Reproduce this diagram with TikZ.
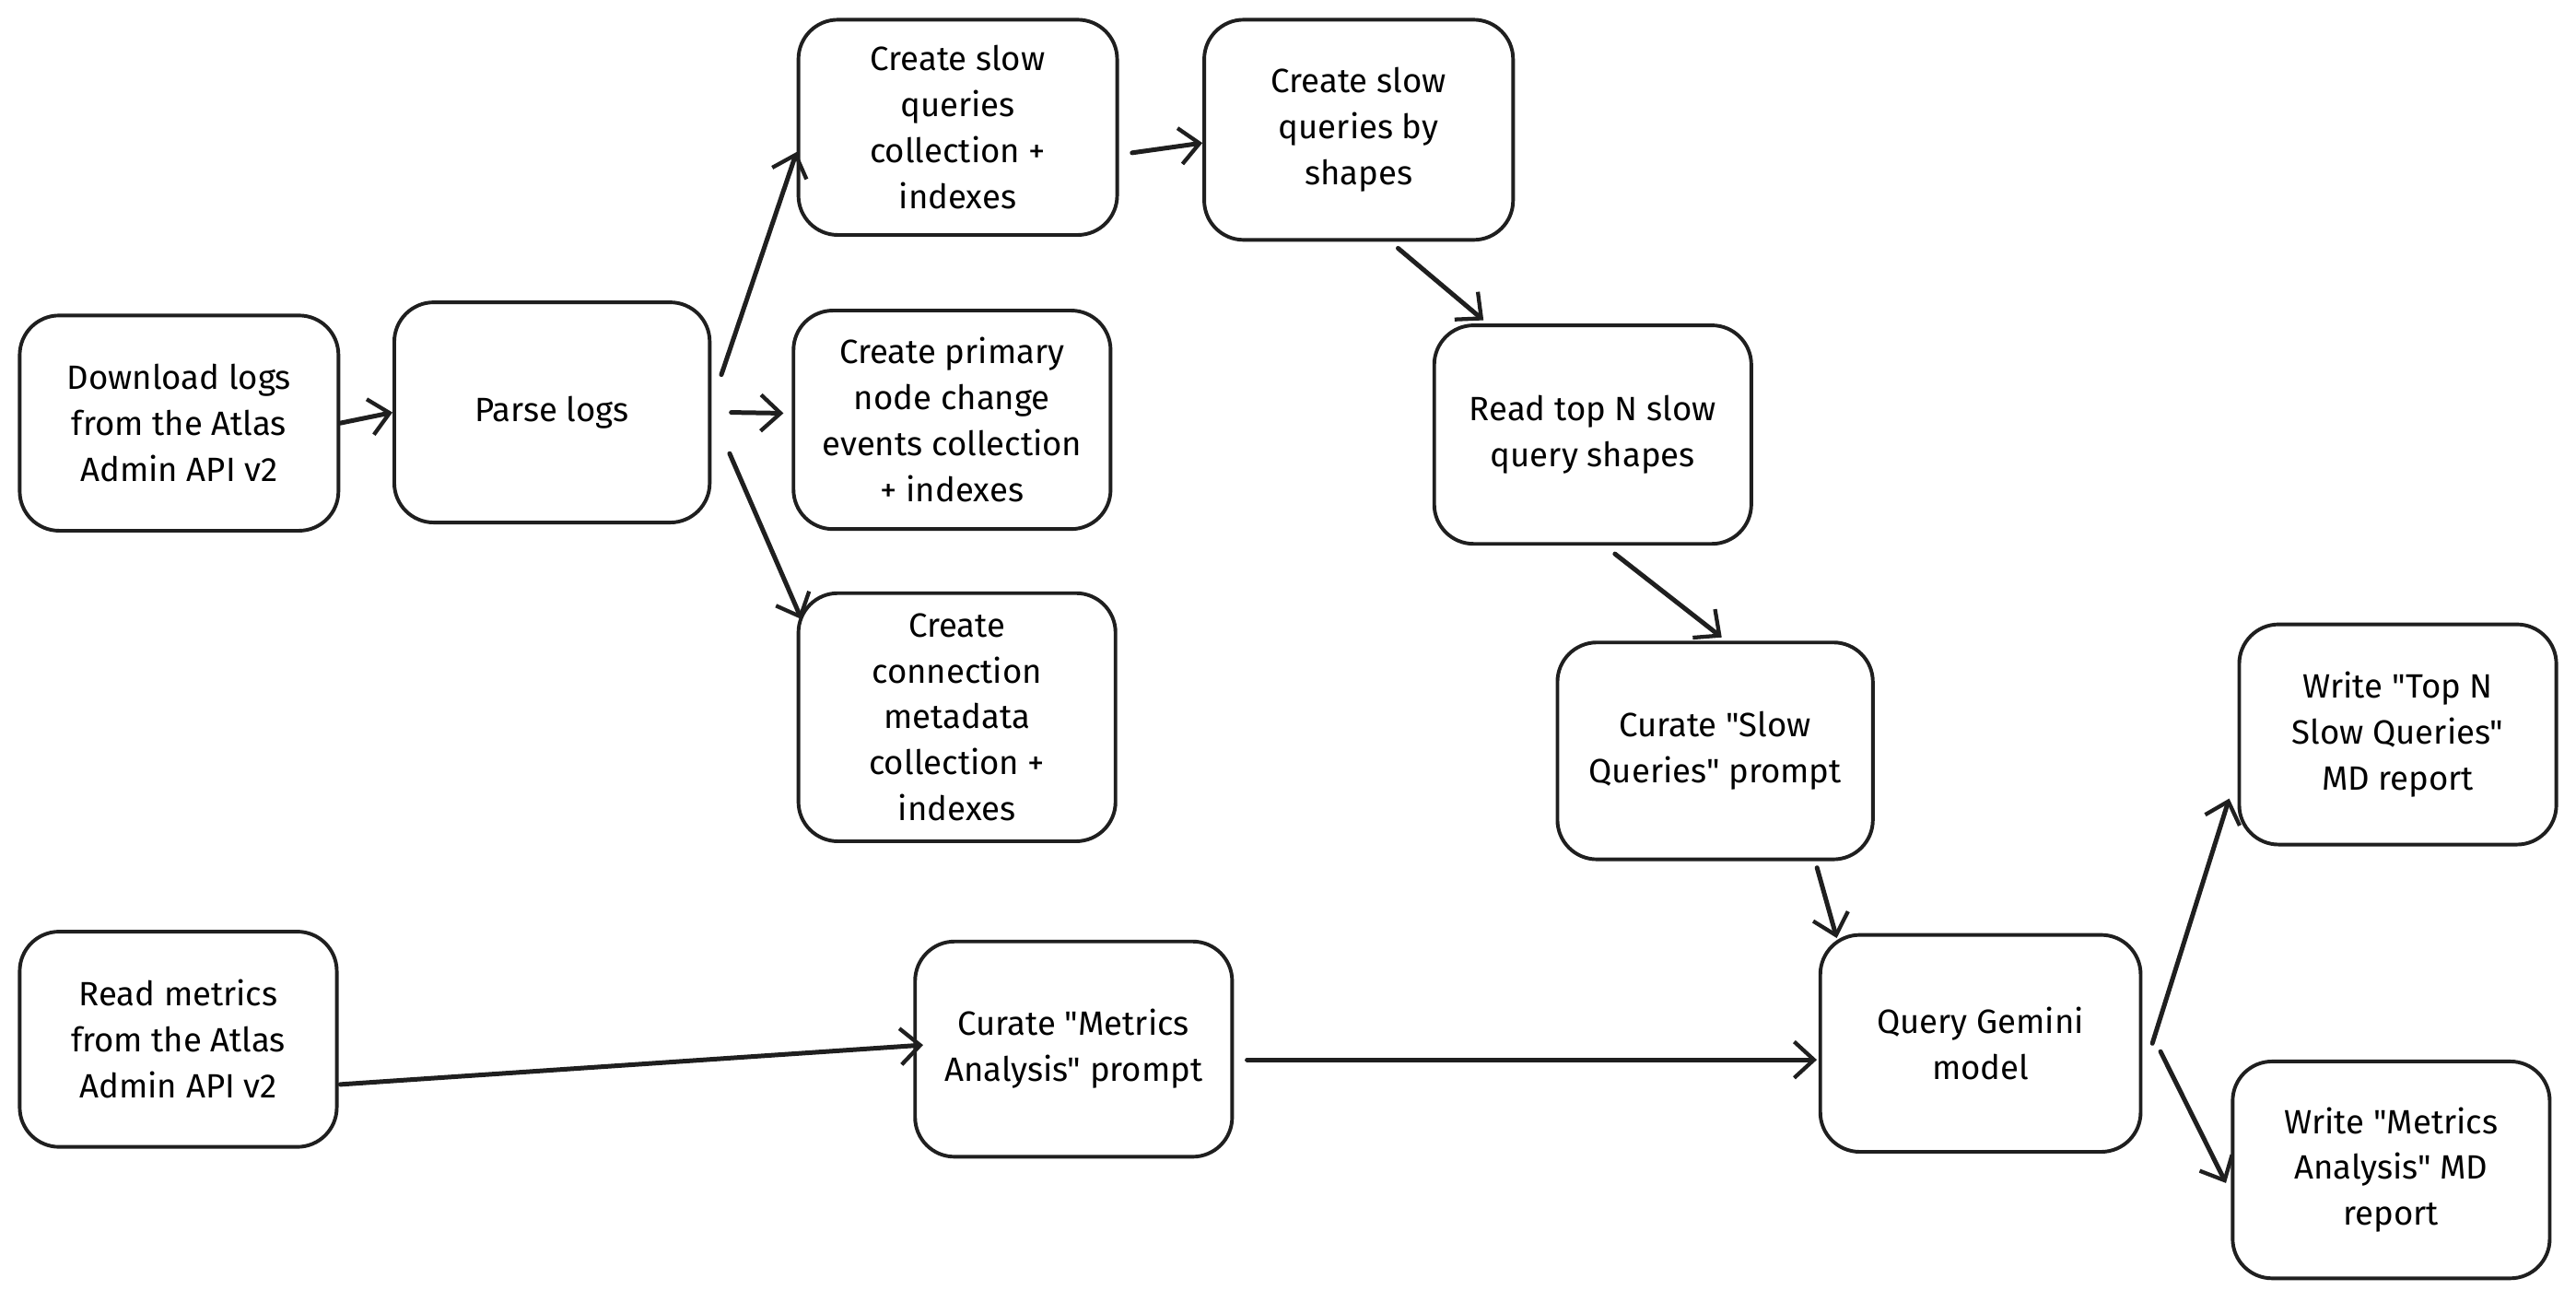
\documentclass[tikz,border=0pt]{standalone}
\usepackage{fontspec}
\newfontfamily\hand{Fira Sans}
\usetikzlibrary{arrows.meta}
\tikzset{
  box/.style={draw=black!88, line width=2.2pt, rounded corners=24pt, fill=white,
    minimum width=#1, align=center, inner sep=0pt,
    font=\hand\fontsize{20.5}{28}\selectfont},
  arr/.style={draw=black!88, line width=2.8pt, line cap=round,
    -{Straight Barb[length=12pt,width=22pt,line width=2.4pt]}},
}
\begin{document}
\begin{tikzpicture}[x=1pt,y=-1pt]
\useasboundingbox (0,0) rectangle (1568,792);
\fill[white] (0,0) rectangle (1568,792);
% nodes
\node[box=194pt, minimum height=131pt] (dl) at (109,257.5) {Download logs\\from the Atlas\\Admin API v2};
\node[box=192pt, minimum height=134pt] (parse) at (336,251) {Parse logs};
\node[box=194pt, minimum height=131pt] (sqc) at (583,77.5) {Create slow\\queries\\collection +\\indexes};
\node[box=193pt, minimum height=133pt] (pri) at (579.5,255.5) {Create primary\\node change\\events collection\\+ indexes};
\node[box=193pt, minimum height=151pt] (conn) at (582.5,436.5) {Create\\connection\\metadata\\collection +\\indexes};
\node[box=188pt, minimum height=134pt] (shp) at (827,79) {Create slow\\queries by\\shapes};
\node[box=193pt, minimum height=133pt] (top) at (969.5,264.5) {Read top N slow\\query shapes};
\node[box=192pt, minimum height=132pt] (cur) at (1044,457) {Curate "Slow\\Queries" prompt};
\node[box=195pt, minimum height=132pt] (gem) at (1205.5,635) {Query Gemini\\model};
\node[box=193pt, minimum height=134pt] (wtop) at (1459.5,447) {Write "Top N\\Slow Queries"\\MD report};
\node[box=193pt, minimum height=132pt] (wmet) at (1455.5,712) {Write "Metrics\\Analysis" MD\\report};
\node[box=193pt, minimum height=131pt] (rm) at (108.5,632.5) {Read metrics\\from the Atlas\\Admin API v2};
\node[box=193pt, minimum height=131pt] (cm) at (653.5,638.5) {Curate "Metrics\\Analysis" prompt};
% connectors
\draw[arr] (dl.east) -- (parse.west);
\draw[arr] ([shift={(6,-23)}]parse.east) -- ([shift={(0,15)}]sqc.west);
\draw[arr] ([shift={(12,0)}]parse.east) -- ([shift={(-5,-4)}]pri.west);
\draw[arr] ([shift={(11,25)}]parse.east) -- ([shift={(3,17)}]conn.north west);
\draw[arr] ([shift={(8,15.5)}]sqc.east) -- ([shift={(0,8)}]shp.west);
\draw[arr] ([shift={(24,4)}]shp.south) -- ([shift={(-66.5,-2)}]top.north);
\draw[arr] ([shift={(13.5,5)}]top.south) -- ([shift={(4,-2)}]cur.north);
\draw[arr] ([shift={(62,4)}]cur.south) -- ([shift={(-87.5,3)}]gem.north);
\draw[arr] ([shift={(1,27.5)}]rm.east) -- ([shift={(6,-2.5)}]cm.west);
\draw[arr] ([shift={(8,6.5)}]cm.east) -- ([shift={(-1,10)}]gem.west);
\draw[arr] ([shift={(6,0)}]gem.east) -- ([shift={(-5,39)}]wtop.west);
\draw[arr] ([shift={(11,5)}]gem.east) -- ([shift={(-3,8)}]wmet.west);
\end{tikzpicture}
\end{document}
